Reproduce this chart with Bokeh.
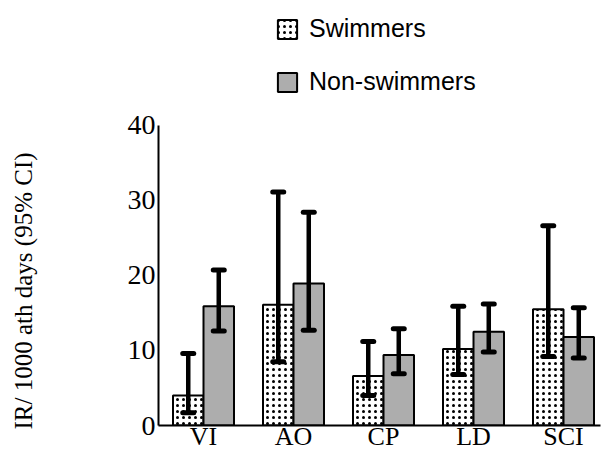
from bokeh.plotting import figure
from bokeh.models import ColumnDataSource, Whisker, TeeHead, Legend, LegendItem, FixedTicker, Title
from bokeh.embed import file_html
from bokeh.resources import INLINE

categories = ["VI", "AO", "CP", "LD", "SCI"]
swim_ir = [4.0, 16.1, 6.6, 10.2, 15.5]
swim_lo = [1.7, 8.5, 4.0, 6.8, 9.2]
swim_hi = [9.6, 31.1, 11.2, 15.9, 26.6]
non_ir = [15.9, 18.9, 9.4, 12.5, 11.8]
non_lo = [12.6, 12.7, 6.9, 9.8, 9.0]
non_hi = [20.7, 28.4, 12.9, 16.2, 15.7]
y_ticks = [0, 10, 20, 30, 40]
y_label = "IR/ 1000 ath days (95% CI)"

AXIS_MAX = 40
FRAME_TOP = AXIS_MAX * 426 / 301   # headroom above the axis for the legend

bar_w = 0.339
idx = list(range(len(categories)))
swim_x = [i - bar_w / 2 for i in idx]
non_x = [i + bar_w / 2 for i in idx]

swim_src = ColumnDataSource(dict(x=swim_x, top=swim_ir, lo=swim_lo, hi=swim_hi))
non_src = ColumnDataSource(dict(x=non_x, top=non_ir, lo=non_lo, hi=non_hi))

p = figure(width=604, height=453, x_range=(-0.5, 4.411), y_range=(0, FRAME_TOP),
           output_backend="svg", toolbar_location=None,
           min_border_left=158, min_border_right=4, min_border_top=0, min_border_bottom=27)
p.outline_line_color = None
p.grid.visible = False

r_swim = p.vbar(x="x", top="top", width=bar_w, source=swim_src, fill_color="white",
                line_color="black", line_width=2, hatch_pattern="dot", hatch_color="black",
                hatch_scale=6, hatch_weight=1.0)
r_non = p.vbar(x="x", top="top", width=bar_w, source=non_src, fill_color="#adadad",
               line_color="black", line_width=2)

for src in (swim_src, non_src):
    w = Whisker(base="x", lower="lo", upper="hi", source=src, dimension="height",
                line_width=4.5, line_color="black", level="overlay",
                upper_head=TeeHead(size=11, line_width=5, line_color="black", line_cap="round"),
                lower_head=TeeHead(size=11, line_width=5, line_color="black", line_cap="round"))
    p.add_layout(w)

p.xaxis.ticker = FixedTicker(ticks=idx)
p.xaxis.major_label_overrides = {i: c for i, c in zip(idx, categories)}
p.yaxis.ticker = FixedTicker(ticks=y_ticks)
p.yaxis.bounds = (0, AXIS_MAX)
for ax in (p.xaxis, p.yaxis):
    ax.major_tick_line_color = None
    ax.minor_tick_line_color = None
    ax.major_tick_out = 0
    ax.major_tick_in = 0
    ax.axis_line_width = 2
    ax.axis_line_color = "black"
    ax.major_label_text_font = "Liberation Serif"
    ax.major_label_text_color = "black"
p.xaxis.major_label_text_font_size = "26px"
p.xaxis.major_label_standoff = -4
p.yaxis.major_label_text_font_size = "28px"
p.yaxis.major_label_standoff = 3
# blank axis label used only as a spacer between tick labels and the title
p.yaxis.axis_label = " "
p.yaxis.axis_label_text_font_size = "1px"
p.yaxis.axis_label_standoff = 84

ylab = Title(text=y_label, align="left", offset=-4, standoff=0, vertical_align="bottom",
             text_font="Liberation Serif", text_font_style="normal",
             text_font_size="25px", text_color="black")
p.add_layout(ylab, "left")

legend = Legend(items=[LegendItem(label="Swimmers", renderers=[r_swim]),
                       LegendItem(label="Non-swimmers", renderers=[r_non])],
                location=(117, 329), orientation="vertical",
                glyph_width=24, glyph_height=24, label_standoff=10, spacing=24,
                padding=0, margin=0, border_line_alpha=0, background_fill_alpha=0,
                label_text_font="Liberation Sans", label_text_font_size="25px",
                label_text_color="black", label_height=24)
p.add_layout(legend)

open("out.html", "w").write(file_html(p, INLINE))
